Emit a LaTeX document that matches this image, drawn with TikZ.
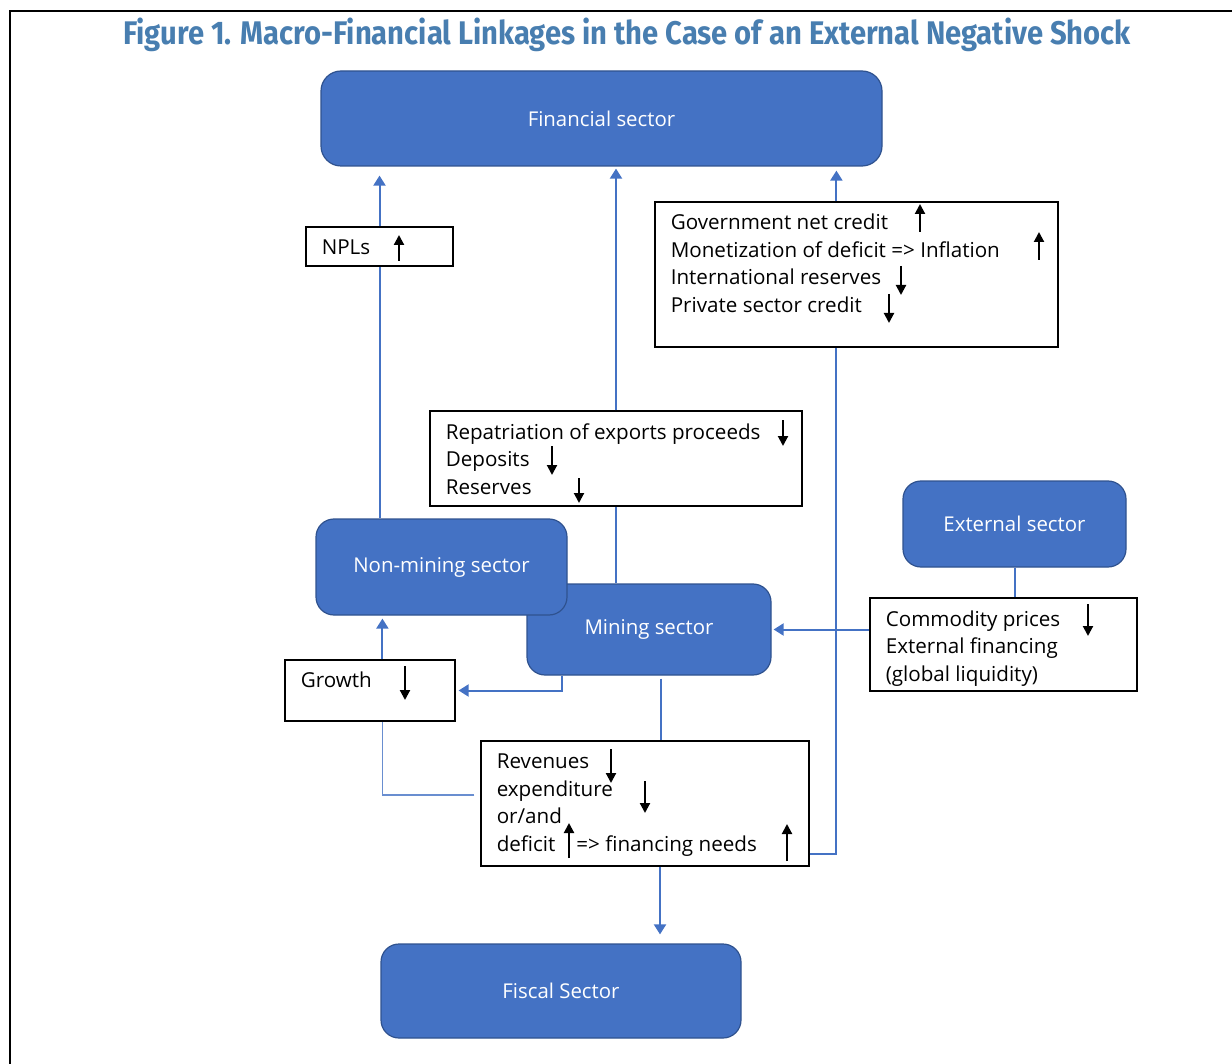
\documentclass[tikz,border=0pt]{standalone}
\usepackage{fontspec}
\setmainfont{Open Sans}
\newfontfamily\titlefont{Fira Sans}
\usepackage{xcolor}
\usetikzlibrary{arrows.meta,positioning}

\definecolor{boxblue}{HTML}{4472C4}
\definecolor{edgeblue}{HTML}{2F528F}
\definecolor{titleblue}{HTML}{487EB0}

\begin{document}
\begin{tikzpicture}[x=0.5pt,y=-0.5pt,
  sector/.style={draw=edgeblue, line width=0.6pt, fill=boxblue, rounded corners=9pt,
    text=white, font=\fontsize{10.2}{12}\selectfont},
  note/.style={draw=black, line width=0.6pt, fill=white},
  notetext/.style={anchor=base west, align=left, inner sep=0pt,
    font=\fontsize{10.3}{13.85}\selectfont},
  wire/.style={draw=boxblue, line width=1pt},
  link/.style={wire, -{Triangle[length=5pt,width=6pt]}},
  trend/.style={line width=1.05pt, -{Triangle[length=5pt,width=5pt]}}]
\useasboundingbox (0,0) rectangle (1232,1064);

% frame and title
\draw[line width=1.25pt] (10,1064) -- (10,11) -- (1232,11);
\node[font=\titlefont\bfseries\fontsize{14.6}{16}\selectfont, text=titleblue, yscale=1.12, transform shape] (title) at (627,35)
  {Figure 1. Macro-Financial Linkages in the Case of an External Negative Shock};

% sectors
\node[sector, rounded corners=10pt, minimum width=280.5pt, minimum height=47.5pt] (fin) at (601.5,118.5) {Financial sector};
\node[sector, minimum width=111.5pt, minimum height=43pt] (ext) at (1014.5,524) {External sector};
\node[sector, minimum width=122pt, minimum height=45.5pt] (min) at (649,629.5) {Mining sector};
\node[sector, minimum width=125.5pt, minimum height=48pt] (nonmin) at (441.5,567) {Non-mining sector};
\node[sector, minimum width=180pt, minimum height=47pt] (fis) at (561,991) {Fiscal Sector};

% channels (base anchor sits on the last line)
\node[note, minimum width=73.5pt, minimum height=19.5pt] (npl) at (379.5,246.5) {};
\node[notetext] (npltxt) at ([shift={(8pt,-14pt)}]npl.north west) {NPLs};

\node[note, minimum width=201.5pt, minimum height=72.5pt] (gov) at (856.5,274.5) {};
\node[notetext] (govtxt) at ([shift={(8pt,-55.6pt)}]gov.north west)
  {Government net credit\\ Monetization of deficit => Inflation\\ International reserves\\ Private sector credit};

\node[note, minimum width=186pt, minimum height=47.5pt] (rep) at (616,458.5) {};
\node[notetext] (reptxt) at ([shift={(8pt,-42pt)}]rep.north west)
  {Repatriation of exports proceeds\\ Deposits\\ Reserves};

\node[note, minimum width=133.5pt, minimum height=46.5pt] (com) at (1003.5,644.5) {};
\node[notetext] (comtxt) at ([shift={(8pt,-42pt)}]com.north west)
  {Commodity prices\\ External financing\\ (global liquidity)};

\node[note, minimum width=85pt, minimum height=30.5pt] (gro) at (370,690.5) {};
\node[notetext] (grotxt) at ([shift={(8pt,-14pt)}]gro.north west) {Growth};

\node[note, minimum width=164pt, minimum height=62.5pt] (rev) at (645,803.5) {};
\node[notetext] (revtxt) at ([shift={(8pt,-55.6pt)}]rev.north west)
  {Revenues\\ expenditure\\ or/and\\ deficit\hspace{10.5pt}=> financing needs};

% up / down marks
\draw[trend] (399,261) -- (399,235);
\draw[trend] (920,232) -- (920,204);
\draw[trend] (1039,260) -- (1039,232);
\draw[trend] (901,266) -- (901,295);
\draw[trend] (889,294) -- (889,323);
\draw[trend] (783,420) -- (783,446);
\draw[trend] (552,446) -- (552,475);
\draw[trend] (579,478) -- (579,503);
\draw[trend] (1088,604) -- (1088,636);
\draw[trend] (405,666) -- (405,700);
\draw[trend] (611,749) -- (611,783);
\draw[trend] (645,781) -- (645,813);
\draw[trend] (569,858) -- (569,823);
\draw[trend] (787,861) -- (787,824);

% connectors
\coordinate (gx) at ([xshift=91pt]gov.north west);
\coordinate (gy) at ([xshift=91pt]gov.south west);
\coordinate (mg) at ([xshift=18pt]min.south west);
\coordinate (gg) at ([xshift=49pt]gro.north west);
\coordinate (mr) at ([xshift=6pt]min.south);
\coordinate (rf) at ([xshift=7.5pt]rev.south);

\draw[wire] (nonmin.north -| npl.south) -- (npl.south);
\draw[link, shorten >=4.5pt] (npl.north) -- (npl.north |- fin.south);
\draw[wire] (min.north -| rep.south) -- (rep.south);
\draw[link, shorten >=1pt] (rep.north) -- (rep.north |- fin.south);
\draw[link, shorten >=2pt] (gx) -- (gx |- fin.south);
\draw[wire] ([yshift=-25.25pt]rev.east) -| (gy);
\draw[wire] (ext.south) -- (ext.south |- com.north);
\draw[link, shorten >=1pt] (com.west |- min.east) -- (min.east);
\draw[link, shorten >=1.5pt] (mg) |- (gro.east);
\draw[link, shorten >=1.5pt] (gg) -- (gg |- nonmin.south);
\draw[draw=boxblue!80, line width=0.6pt] ([shift={(-3pt,4.25pt)}]rev.west) -| (gg |- gro.south);
\draw[wire] ([yshift=-1.5pt]mr) -- (mr |- rev.north);
\draw[link, shorten >=4.5pt] (rf) -- (rf |- fis.north);
\end{tikzpicture}
\end{document}
